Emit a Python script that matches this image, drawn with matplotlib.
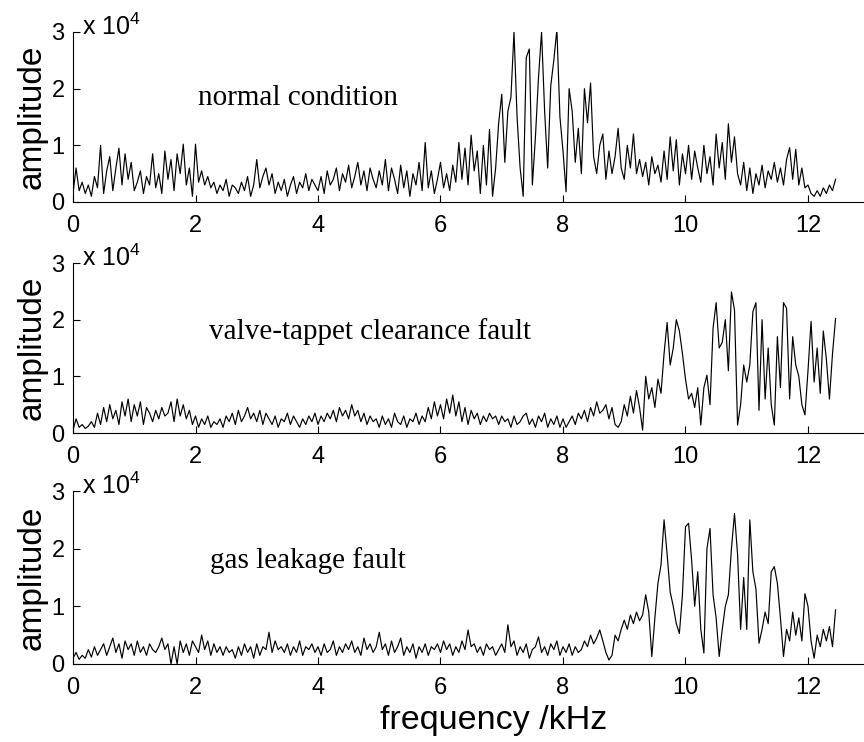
import numpy as np
import matplotlib
matplotlib.use("Agg")
import matplotlib.pyplot as plt

plt.rcParams['font.family'] = ['Liberation Sans', 'DejaVu Sans']
plt.rcParams['mathtext.fontset'] = 'custom'
plt.rcParams['mathtext.rm'] = 'Liberation Sans'

# spectra sampled every 0.05 kHz, amplitude in units of 1e4
step_khz = 0.05

normal = [
    0.15, 0.60, 0.20, 0.35, 0.15, 0.30, 0.10, 0.45, 0.25, 1.00, 0.15, 0.55, 0.80, 0.20, 0.60, 0.95, 0.30, 0.85, 0.40, 0.70,
    0.20, 0.35, 0.55, 0.15, 0.45, 0.30, 0.85, 0.25, 0.50, 0.15, 0.90, 0.40, 0.75, 0.20, 0.85, 0.50, 1.02, 0.30, 0.60, 0.10,
    1.02, 0.35, 0.55, 0.30, 0.45, 0.25, 0.35, 0.15, 0.30, 0.20, 0.40, 0.10, 0.30, 0.25, 0.15, 0.35, 0.20, 0.45, 0.10, 0.30,
    0.75, 0.25, 0.45, 0.60, 0.30, 0.50, 0.15, 0.35, 0.20, 0.40, 0.10, 0.30, 0.45, 0.15, 0.35, 0.25, 0.50, 0.20, 0.40, 0.30,
    0.20, 0.45, 0.15, 0.55, 0.30, 0.40, 0.60, 0.20, 0.50, 0.35, 0.65, 0.25, 0.45, 0.70, 0.30, 0.55, 0.20, 0.60, 0.40, 0.25,
    0.55, 0.30, 0.75, 0.20, 0.60, 0.40, 0.15, 0.65, 0.25, 0.55, 0.10, 0.50, 0.30, 0.70, 0.20, 1.05, 0.25, 0.55, 0.15, 0.40,
    0.70, 0.25, 0.50, 0.20, 0.65, 0.35, 1.05, 0.40, 0.95, 0.30, 1.18, 0.55, 0.90, 0.15, 1.00, 0.30, 1.28, 0.10, 0.60, 1.40,
    1.90, 0.70, 1.60, 1.85, 3.00, 1.50, 0.60, 0.10, 2.55, 2.70, 0.30, 1.15, 2.20, 3.00, 1.60, 0.60, 2.05, 2.50, 3.05, 1.50,
    0.90, 0.18, 2.00, 1.60, 0.70, 1.30, 0.50, 2.00, 1.40, 2.10, 0.80, 0.50, 1.00, 1.20, 0.40, 0.90, 0.50, 0.80, 1.30, 0.60,
    0.40, 1.00, 0.60, 1.20, 0.50, 0.75, 0.45, 0.70, 0.30, 0.80, 0.50, 0.65, 0.35, 0.90, 0.40, 1.15, 0.55, 1.10, 0.30, 0.85,
    0.50, 1.00, 0.40, 0.90, 0.60, 0.35, 1.00, 0.50, 0.80, 0.30, 1.20, 0.60, 1.05, 0.40, 1.38, 0.70, 1.15, 0.50, 0.30, 0.70,
    0.20, 0.60, 0.15, 0.50, 0.30, 0.65, 0.25, 0.55, 0.40, 0.70, 0.35, 0.60, 0.30, 0.75, 0.96, 0.40, 0.93, 0.30, 0.60, 0.25,
    0.30, 0.15, 0.10, 0.20, 0.10, 0.25, 0.15, 0.30, 0.20, 0.40,
]

valve = [
    0.05, 0.25, 0.10, 0.15, 0.08, 0.12, 0.20, 0.10, 0.35, 0.15, 0.45, 0.20, 0.50, 0.25, 0.40, 0.15, 0.55, 0.30, 0.60, 0.20,
    0.50, 0.30, 0.55, 0.15, 0.45, 0.35, 0.20, 0.40, 0.25, 0.45, 0.30, 0.35, 0.55, 0.20, 0.60, 0.30, 0.50, 0.25, 0.40, 0.15,
    0.30, 0.10, 0.25, 0.15, 0.30, 0.10, 0.20, 0.15, 0.25, 0.10, 0.30, 0.20, 0.35, 0.15, 0.40, 0.20, 0.30, 0.45, 0.25, 0.35,
    0.20, 0.40, 0.15, 0.35, 0.25, 0.15, 0.30, 0.10, 0.25, 0.20, 0.35, 0.15, 0.30, 0.20, 0.10, 0.25, 0.15, 0.30, 0.20, 0.35,
    0.15, 0.30, 0.20, 0.35, 0.25, 0.40, 0.20, 0.45, 0.30, 0.40, 0.25, 0.50, 0.30, 0.40, 0.20, 0.35, 0.15, 0.30, 0.20, 0.25,
    0.10, 0.30, 0.15, 0.25, 0.10, 0.35, 0.20, 0.15, 0.30, 0.10, 0.25, 0.20, 0.35, 0.15, 0.30, 0.20, 0.45, 0.25, 0.55, 0.30,
    0.50, 0.25, 0.60, 0.35, 0.67, 0.30, 0.55, 0.20, 0.45, 0.15, 0.40, 0.25, 0.35, 0.15, 0.30, 0.20, 0.35, 0.25, 0.30, 0.15,
    0.30, 0.20, 0.25, 0.10, 0.30, 0.15, 0.20, 0.30, 0.35, 0.15, 0.25, 0.10, 0.30, 0.20, 0.35, 0.10, 0.25, 0.15, 0.30, 0.10,
    0.25, 0.10, 0.20, 0.30, 0.15, 0.35, 0.25, 0.40, 0.20, 0.45, 0.30, 0.55, 0.35, 0.40, 0.50, 0.25, 0.45, 0.15, 0.10, 0.20,
    0.50, 0.30, 0.65, 0.35, 0.75, 0.45, 0.05, 1.00, 0.60, 0.80, 0.45, 0.95, 0.70, 1.40, 1.95, 1.20, 1.50, 2.00, 1.80, 1.40,
    0.95, 0.60, 0.70, 0.45, 0.80, 0.14, 0.80, 1.02, 0.50, 1.85, 2.30, 1.50, 1.60, 2.00, 1.10, 2.49, 2.17, 0.14, 0.50, 1.20,
    0.90, 1.20, 2.14, 2.30, 0.40, 2.00, 0.60, 1.50, 0.50, 0.14, 1.70, 0.80, 2.30, 2.20, 0.60, 1.70, 1.20, 1.00, 0.50, 0.32,
    1.10, 1.97, 0.90, 1.50, 0.70, 1.80, 1.30, 0.60, 1.40, 2.02,
]

leakage = [
    0.10, 0.20, 0.08, 0.15, 0.10, 0.25, 0.12, 0.30, 0.15, 0.25, 0.35, 0.15, 0.30, 0.45, 0.20, 0.35, 0.10, 0.40, 0.25, 0.35,
    0.15, 0.40, 0.20, 0.30, 0.15, 0.35, 0.25, 0.20, 0.30, 0.45, 0.25, 0.35, 0.00, 0.30, 0.00, 0.40, 0.20, 0.35, 0.15, 0.40,
    0.30, 0.20, 0.50, 0.25, 0.40, 0.15, 0.35, 0.20, 0.30, 0.15, 0.30, 0.20, 0.25, 0.10, 0.30, 0.15, 0.35, 0.20, 0.30, 0.10,
    0.35, 0.15, 0.30, 0.25, 0.55, 0.20, 0.40, 0.25, 0.30, 0.20, 0.35, 0.15, 0.30, 0.20, 0.40, 0.15, 0.30, 0.25, 0.35, 0.20,
    0.30, 0.15, 0.35, 0.20, 0.25, 0.40, 0.15, 0.30, 0.20, 0.35, 0.25, 0.40, 0.20, 0.30, 0.15, 0.45, 0.25, 0.35, 0.20, 0.30,
    0.55, 0.25, 0.35, 0.15, 0.40, 0.20, 0.30, 0.45, 0.15, 0.30, 0.20, 0.35, 0.10, 0.30, 0.20, 0.35, 0.15, 0.30, 0.25, 0.35,
    0.20, 0.40, 0.25, 0.35, 0.15, 0.30, 0.20, 0.40, 0.25, 0.59, 0.30, 0.35, 0.20, 0.30, 0.15, 0.35, 0.25, 0.30, 0.15, 0.25,
    0.35, 0.20, 0.68, 0.30, 0.40, 0.15, 0.30, 0.20, 0.35, 0.10, 0.25, 0.30, 0.47, 0.20, 0.30, 0.15, 0.35, 0.25, 0.40, 0.15,
    0.30, 0.20, 0.35, 0.15, 0.30, 0.20, 0.25, 0.40, 0.30, 0.50, 0.35, 0.45, 0.59, 0.40, 0.20, 0.07, 0.15, 0.50, 0.40, 0.60,
    0.76, 0.60, 0.85, 0.70, 0.90, 0.75, 0.85, 1.20, 0.90, 0.13, 0.80, 1.40, 1.72, 2.50, 1.90, 1.25, 1.00, 0.70, 0.53, 1.20,
    2.38, 2.44, 1.80, 1.00, 1.60, 0.60, 0.19, 2.00, 2.35, 1.20, 0.80, 0.13, 0.60, 1.00, 1.20, 2.00, 2.61, 1.90, 0.60, 1.50,
    0.60, 2.50, 1.60, 1.30, 0.36, 0.60, 0.90, 0.70, 1.60, 1.69, 1.40, 0.80, 0.13, 0.60, 0.40, 0.90, 0.50, 0.80, 0.40, 1.22,
    1.00, 0.40, 0.10, 0.50, 0.30, 0.60, 0.40, 0.65, 0.30, 0.94,
]

series = [normal, valve, leakage]
labels = ['normal condition', 'valve-tappet clearance fault', 'gas leakage fault']
label_pos = [(2.04, 1.71), (2.22, 1.66), (2.24, 1.66)]
xticks = [0, 2, 4, 6, 8, 10, 12]
yticks = [0, 1, 2, 3]

W, H = 864, 742
fig = plt.figure(figsize=(W / 100, H / 100), dpi=100)

# axes boxes in pixels: (top, bottom)
boxes = [(32, 202), (263, 433), (491, 664)]
left_px = 73

for (top, bot), y, lab, (tx, ty) in zip(boxes, series, labels, label_pos):
    ax = fig.add_axes([left_px / W, 1 - bot / H, (W - left_px) / W, (bot - top) / H])
    freq = np.arange(len(y)) * step_khz
    ax.plot(freq, y, color='k', lw=0.85)
    ax.set_xlim(0, (W - left_px) / 61.25)
    ax.set_ylim(0, 3)
    ax.set_xticks(xticks)
    ax.set_yticks(yticks)
    ax.spines['top'].set_visible(False)
    ax.spines['right'].set_visible(False)
    for s in ('left', 'bottom'):
        ax.spines[s].set_linewidth(0.8)
    ax.tick_params(direction='in', length=5, width=0.8, labelsize=17)
    ax.tick_params(axis='x', pad=9.5)
    ax.tick_params(axis='y', pad=6)
    ax.text(0.012, 1.03, r'x 10$^{\mathregular{4}}$', transform=ax.transAxes,
            fontsize=18, ha='left', va='center')
    ax.text(tx, ty, lab, fontsize=21, family=['Liberation Serif', 'DejaVu Serif'],
            ha='left', va='baseline')
    fig.text(32 / W, 1 - (top + bot) / 2 / H, 'amplitude', rotation=90,
             fontsize=24, ha='center', va='center')

fig.text(494 / W, 1 - 729 / H, 'frequency /kHz', fontsize=24.5, ha='center', va='baseline')

fig.savefig('out.png', dpi=100)
